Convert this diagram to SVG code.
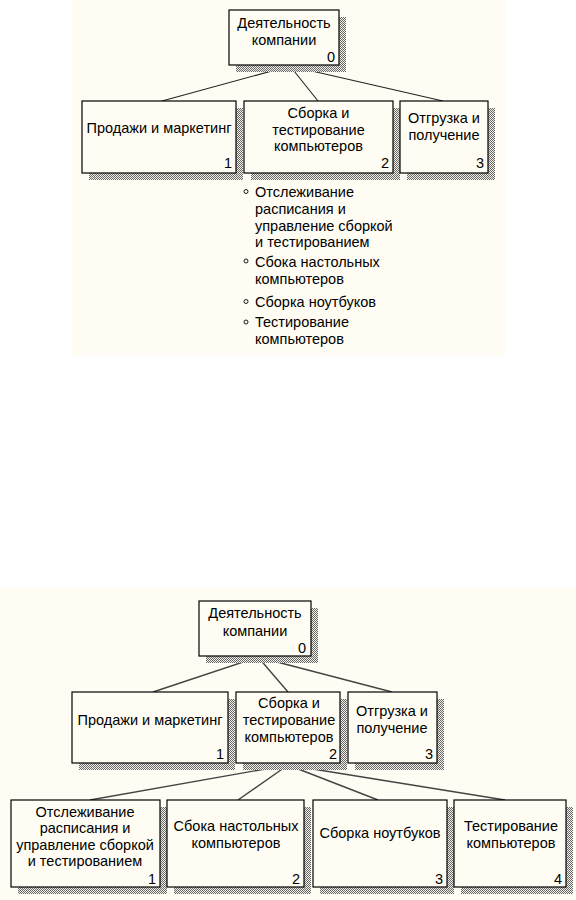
<svg xmlns="http://www.w3.org/2000/svg" width="576" height="900" viewBox="0 0 576 900">
<defs>
<pattern id="hatch" width="2" height="2" patternUnits="userSpaceOnUse">
<rect width="2" height="2" fill="#f4f2ea"/>
<rect width="1" height="1" fill="#666"/>
<rect x="1" y="1" width="1" height="1" fill="#666"/>
</pattern>
<style>
.bg{fill:#fffdf3}
.sh{fill:url(#hatch)}
.bx{fill:#fffdf3;stroke:#000;stroke-width:1.2}
text{font-family:"Liberation Sans",Arial,sans-serif;font-size:14.5px;fill:#000}
.c{text-anchor:middle}
.n{text-anchor:end}
.ln{stroke:#222;stroke-width:1.1;fill:none}
.ln2{stroke:#444;stroke-width:1.4;fill:none}
.bul{fill:none;stroke:#000;stroke-width:0.9}
</style>
</defs>
<rect x="0" y="0" width="576" height="900" fill="#ffffff"/>
<rect class="bg" x="72" y="0" width="433" height="355"/>
<rect class="bg" x="0" y="588" width="576" height="312"/>

<!-- Top diagram -->
<g id="top-connectors">
<line class="ln" x1="290" y1="66" x2="162" y2="101"/>
<line class="ln" x1="290" y1="66" x2="318" y2="101"/>
<line class="ln" x1="290" y1="66" x2="443" y2="101"/>
</g>
<g id="t-node0">
<rect class="sh" x="236" y="17" width="110" height="55"/>
<rect class="bx" x="229" y="10" width="110" height="55"/>
<text class="c" x="284" y="28">Деятельность</text>
<text class="c" x="284" y="45">компании</text>
<text class="n" x="335" y="62">0</text>
</g>
<g id="t-node1">
<rect class="sh" x="89" y="108" width="154" height="72"/>
<rect class="bx" x="82" y="101" width="154" height="72"/>
<text class="c" x="159" y="133">Продажи и маркетинг</text>
<text class="n" x="232" y="168">1</text>
</g>
<g id="t-node2">
<rect class="sh" x="251" y="108" width="149" height="72"/>
<rect class="bx" x="244" y="101" width="149" height="72"/>
<text class="c" x="318.5" y="118">Сборка и</text>
<text class="c" x="318.5" y="135">тестирование</text>
<text class="c" x="318.5" y="151">компьютеров</text>
<text class="n" x="389" y="168">2</text>
</g>
<g id="t-node3">
<rect class="sh" x="407" y="108" width="88" height="72"/>
<rect class="bx" x="400" y="101" width="88" height="72"/>
<text class="c" x="444" y="123">Отгрузка и</text>
<text class="c" x="444" y="140">получение</text>
<text class="n" x="484" y="168">3</text>
</g>
<g id="t-list">
<circle class="bul" cx="246" cy="191.5" r="2"/>
<text x="255" y="197">Отслеживание</text>
<text x="255" y="214">расписания и</text>
<text x="255" y="231">управление сборкой</text>
<text x="255" y="247">и тестированием</text>
<circle class="bul" cx="246" cy="261" r="2"/>
<text x="255" y="267">Сбока настольных</text>
<text x="255" y="284">компьютеров</text>
<circle class="bul" cx="246" cy="301.5" r="2"/>
<text x="255" y="307">Сборка ноутбуков</text>
<circle class="bul" cx="246" cy="322" r="2"/>
<text x="255" y="327">Тестирование</text>
<text x="255" y="344">компьютеров</text>
</g>

<!-- Bottom diagram -->
<g id="bottom-connectors">
<line class="ln2" x1="258" y1="657" x2="153" y2="692"/>
<line class="ln2" x1="258" y1="657" x2="288" y2="692"/>
<line class="ln2" x1="258" y1="657" x2="392" y2="692"/>
<line class="ln2" x1="288" y1="765" x2="90" y2="800"/>
<line class="ln2" x1="288" y1="765" x2="238" y2="800"/>
<line class="ln2" x1="288" y1="765" x2="378" y2="800"/>
<line class="ln2" x1="288" y1="765" x2="505" y2="800"/>
</g>
<g id="b-node0">
<rect class="sh" x="206" y="608" width="112" height="55"/>
<rect class="bx" x="199" y="601" width="112" height="55"/>
<text class="c" x="255" y="618">Деятельность</text>
<text class="c" x="255" y="636">компании</text>
<text class="n" x="306" y="653">0</text>
</g>
<g id="b-node1">
<rect class="sh" x="79" y="699" width="156" height="71"/>
<rect class="bx" x="72" y="692" width="156" height="71"/>
<text class="c" x="150" y="725">Продажи и маркетинг</text>
<text class="n" x="224" y="759">1</text>
</g>
<g id="b-node2">
<rect class="sh" x="243" y="699" width="104" height="71"/>
<rect class="bx" x="236" y="692" width="104" height="71"/>
<text class="c" x="289" y="708">Сборка и</text>
<text class="c" x="289" y="725">тестирование</text>
<text class="c" x="289" y="742">компьютеров</text>
<text class="n" x="337" y="759">2</text>
</g>
<g id="b-node3">
<rect class="sh" x="355" y="699" width="89" height="71"/>
<rect class="bx" x="348" y="692" width="89" height="71"/>
<text class="c" x="392" y="716">Отгрузка и</text>
<text class="c" x="392" y="733">получение</text>
<text class="n" x="433" y="759">3</text>
</g>
<g id="b-node4">
<rect class="sh" x="18" y="807" width="149" height="87"/>
<rect class="bx" x="11" y="800" width="149" height="87"/>
<text class="c" x="85" y="817">Отслеживание</text>
<text class="c" x="85" y="833">расписания и</text>
<text class="c" x="85" y="850">управление сборкой</text>
<text class="c" x="85" y="866">и тестированием</text>
<text class="n" x="156" y="884">1</text>
</g>
<g id="b-node5">
<rect class="sh" x="174" y="807" width="137" height="87"/>
<rect class="bx" x="167" y="800" width="137" height="87"/>
<text class="c" x="236" y="831">Сбока настольных</text>
<text class="c" x="236" y="848">компьютеров</text>
<text class="n" x="300" y="884">2</text>
</g>
<g id="b-node6">
<rect class="sh" x="320" y="807" width="134" height="87"/>
<rect class="bx" x="313" y="800" width="134" height="87"/>
<text class="c" x="380" y="838">Сборка ноутбуков</text>
<text class="n" x="443" y="884">3</text>
</g>
<g id="b-node7">
<rect class="sh" x="461" y="807" width="112" height="87"/>
<rect class="bx" x="454" y="800" width="112" height="87"/>
<text class="c" x="511" y="831">Тестирование</text>
<text class="c" x="511" y="848">компьютеров</text>
<text class="n" x="562" y="884">4</text>
</g>
</svg>
